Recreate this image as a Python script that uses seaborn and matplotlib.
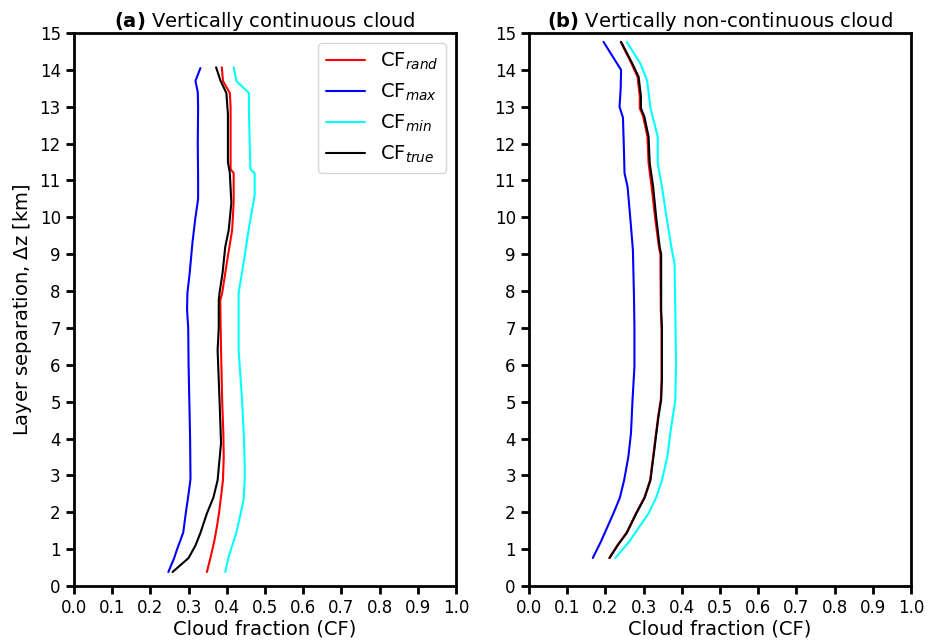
"""Cloud fraction overlap profiles vs layer separation (two panels)."""

import numpy as np
import pandas as pd
import matplotlib
matplotlib.use("Agg")
import matplotlib.pyplot as plt
import seaborn as sns

# ---- panel (a): vertically continuous cloud ----
z_rand_a = [0.38, 0.8, 1.2, 1.6, 2.0, 2.87, 3.5, 4.15, 5.0, 6.4, 7.0, 7.75, 7.95,
            8.76, 9.65, 10.4, 11.2, 11.3, 12.0, 13.0, 13.37, 13.7, 14.07]
cf_rand_a = [0.348, 0.358, 0.367, 0.374, 0.380, 0.390, 0.392, 0.391, 0.388, 0.385,
             0.384, 0.383, 0.388, 0.400, 0.414, 0.418, 0.418, 0.410, 0.410, 0.410,
             0.408, 0.390, 0.387]

z_max_a = [0.38, 0.75, 1.0, 1.45, 2.0, 2.5, 2.9, 4.0, 5.0, 6.0, 7.0, 7.5, 7.95,
           8.5, 9.3, 10.0, 10.5, 11.0, 12.0, 13.0, 13.4, 13.7, 14.05]
cf_max_a = [0.247, 0.262, 0.270, 0.286, 0.293, 0.300, 0.305, 0.304, 0.302, 0.300,
            0.299, 0.296, 0.297, 0.303, 0.310, 0.318, 0.325, 0.325, 0.324, 0.325,
            0.324, 0.318, 0.331]

z_min_a = [0.38, 0.8, 1.44, 2.0, 2.33, 2.9, 3.23, 4.0, 5.05, 6.4, 7.0, 7.75, 7.95,
           8.76, 9.65, 10.6, 11.2, 11.3, 12.0, 12.9, 13.37, 13.7, 14.07]
cf_min_a = [0.396, 0.405, 0.425, 0.437, 0.444, 0.447, 0.447, 0.445, 0.440, 0.431,
            0.431, 0.431, 0.431, 0.444, 0.457, 0.473, 0.473, 0.462, 0.460, 0.458,
            0.458, 0.425, 0.418]

z_true_a = [0.38, 0.76, 1.1, 1.44, 1.97, 2.4, 2.87, 3.88, 5.05, 6.4, 7.0, 7.75,
            7.95, 8.5, 9.2, 9.65, 10.39, 11.2, 11.5, 12.0, 12.8, 13.37, 13.72, 14.07]
cf_true_a = [0.258, 0.300, 0.318, 0.331, 0.348, 0.365, 0.376, 0.385, 0.381, 0.376,
             0.379, 0.379, 0.381, 0.389, 0.396, 0.405, 0.412, 0.408, 0.403, 0.403,
             0.403, 0.399, 0.383, 0.372]

# ---- panel (b): vertically non-continuous cloud ----
z_rand_b = [0.76, 1.1, 1.44, 1.97, 2.4, 2.87, 3.69, 4.6, 5.05, 5.6, 7.0, 7.49, 9.0,
            9.2, 10.0, 10.83, 11.47, 12.19, 12.73, 12.96, 13.27, 13.81, 14.18, 14.76]
cf_rand_b = [0.210, 0.231, 0.255, 0.280, 0.302, 0.317, 0.327, 0.338, 0.345, 0.347,
             0.347, 0.345, 0.344, 0.340, 0.330, 0.321, 0.313, 0.310, 0.299, 0.290,
             0.290, 0.284, 0.268, 0.240]

z_max_b = [0.76, 1.2, 1.97, 2.4, 2.87, 3.5, 4.15, 5.05, 5.95, 7.0, 7.75, 9.11, 10.0,
           10.83, 11.2, 11.64, 12.7, 13.0, 13.5, 14.0, 14.18, 14.76]
cf_max_b = [0.167, 0.188, 0.221, 0.238, 0.249, 0.260, 0.267, 0.271, 0.276, 0.276,
            0.275, 0.272, 0.265, 0.258, 0.250, 0.249, 0.246, 0.237, 0.240, 0.241,
            0.230, 0.195]

z_min_b = [0.76, 1.2, 1.97, 2.4, 2.87, 3.5, 4.15, 5.05, 6.0, 7.49, 8.75, 9.11, 10.0,
           10.83, 11.47, 12.19, 12.96, 13.72, 14.18, 14.76]
cf_min_b = [0.226, 0.262, 0.313, 0.333, 0.348, 0.362, 0.370, 0.383, 0.385, 0.383,
            0.381, 0.374, 0.360, 0.348, 0.337, 0.337, 0.318, 0.309, 0.291, 0.256]

z_true_b = z_rand_b
cf_true_b = [0.211, 0.232, 0.256, 0.281, 0.303, 0.318, 0.328, 0.339, 0.346, 0.348,
             0.348, 0.346, 0.346, 0.342, 0.333, 0.325, 0.316, 0.313, 0.302, 0.293,
             0.293, 0.287, 0.270, 0.241]

series_names = ["rand", "max", "min", "true"]
series_labels = [r"CF$_{rand}$", r"CF$_{max}$", r"CF$_{min}$", r"CF$_{true}$"]
series_colors = ["red", "blue", "cyan", "black"]
titles = [r"$\bf{(a)}$ Vertically continuous cloud",
          r"$\bf{(b)}$ Vertically non-continuous cloud"]


def build_frame(profiles):
    rows = []
    for name, (z, cf) in zip(series_names, profiles):
        rows.append(pd.DataFrame({"z": z, "cf": cf, "series": name}))
    return pd.concat(rows, ignore_index=True)


df_a = build_frame([(z_rand_a, cf_rand_a), (z_max_a, cf_max_a),
                    (z_min_a, cf_min_a), (z_true_a, cf_true_a)])
df_b = build_frame([(z_rand_b, cf_rand_b), (z_max_b, cf_max_b),
                    (z_min_b, cf_min_b), (z_true_b, cf_true_b)])

sns.set_style("ticks")
plt.rcParams["font.family"] = ["DejaVu Sans"]
plt.rcParams["mathtext.fontset"] = "dejavusans"
plt.rcParams["text.color"] = "black"
plt.rcParams["axes.labelcolor"] = "black"
plt.rcParams["xtick.color"] = "black"
plt.rcParams["ytick.color"] = "black"

fig = plt.figure(figsize=(9.33, 6.42), dpi=100)
ax_a = fig.add_axes([0.0793, 0.0872, 0.4094, 0.8614])
ax_b = fig.add_axes([0.567, 0.0872, 0.4094, 0.8614])

for ax, df, title in [(ax_a, df_a, titles[0]), (ax_b, df_b, titles[1])]:
    for name, label, color in zip(series_names, series_labels, series_colors):
        sub = df[df["series"] == name]
        sns.lineplot(data=sub, x="cf", y="z", orient="y", sort=False,
                     estimator=None, color=color, linewidth=1.5,
                     label=label, ax=ax)
    ax.set_xlim(0, 1)
    ax.set_ylim(0, 15)
    ax.set_xticks(np.arange(0, 1.01, 0.1))
    ax.set_xticklabels([f"{v:.1f}" for v in np.arange(0, 1.01, 0.1)])
    ax.set_yticks(range(0, 16))
    ax.tick_params(axis="both", labelsize=12, length=6, width=2, direction="out",
                   colors="black")
    for sp in ax.spines.values():
        sp.set_visible(True)
        sp.set_linewidth(2)
        sp.set_color("black")
    ax.set_xlabel("Cloud fraction (CF)", fontsize=14, labelpad=2, color="black")
    ax.set_ylabel("")
    ax.set_title(title, fontsize=14, pad=4, color="black")

ax_a.set_ylabel(r"Layer separation, $\Delta$z [km]", fontsize=14, labelpad=4,
                color="black")
leg = ax_a.legend(loc="upper right", fontsize=14, frameon=True)
for t in leg.get_texts():
    t.set_color("black")
ax_b.get_legend().remove()

fig.savefig("out.png", dpi=100)
